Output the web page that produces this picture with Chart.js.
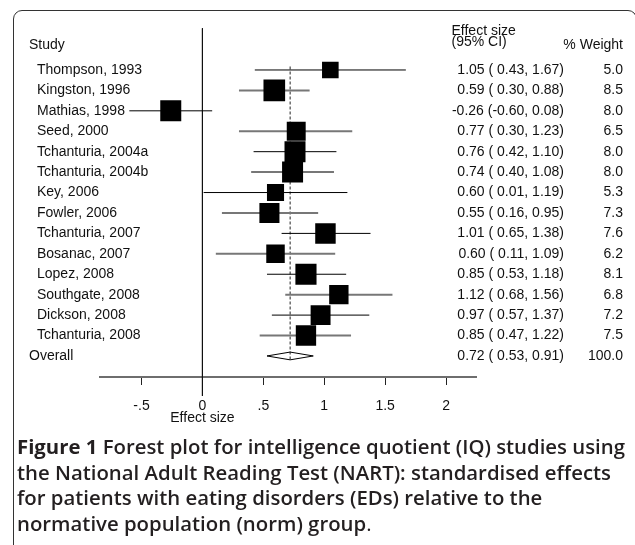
<!DOCTYPE html>
<html><head><meta charset="utf-8">
<script src="https://cdn.jsdelivr.net/npm/chart.js@4.4.1/dist/chart.umd.min.js"></script>
<style>
html,body{margin:0;padding:0;background:#fff;}
#wrap{position:relative;width:635px;height:545px;overflow:hidden;background:#fff;}
#frame{position:absolute;left:13px;top:10px;width:624px;height:560px;border:1px solid #333;border-radius:9px;box-sizing:border-box;}
#c{position:absolute;left:0;top:0;}
#cap{position:absolute;left:17px;top:434px;font-family:'Open Sans',sans-serif;font-weight:600;font-size:20px;line-height:25.7px;color:#231f20;white-space:nowrap;}
#cap span.l{display:block;height:25.7px;}
#cap b{font-weight:700;}
#cap .dot{font-weight:400;}
</style></head><body>
<div id="wrap">
<div id="frame"></div>
<canvas id="c" width="635" height="545"></canvas>
<div id="cap"><span class="l"><span id="l1"><b>Figure 1</b> Forest plot for intelligence quotient (IQ) studies using</span></span><span class="l">the National Adult Reading Test (NART): standardised effects</span><span class="l">for patients with eating disorders (EDs) relative to the</span><span class="l">normative population (norm) group<span class="dot">.</span></span></div>
</div>
<script>
// ---- data ----
const studies = ['Thompson, 1993','Kingston, 1996','Mathias, 1998','Seed, 2000','Tchanturia, 2004a','Tchanturia, 2004b','Key, 2006','Fowler, 2006','Tchanturia, 2007','Bosanac, 2007','Lopez, 2008','Southgate, 2008','Dickson, 2008','Tchanturia, 2008'];
const effect = [1.05,0.59,-0.26,0.77,0.76,0.74,0.60,0.55,1.01,0.60,0.85,1.12,0.97,0.85];
const ciLow  = [0.43,0.30,-0.60,0.30,0.42,0.40,0.01,0.16,0.65,0.11,0.53,0.68,0.57,0.47];
const ciHigh = [1.67,0.88,0.08,1.23,1.10,1.08,1.19,0.95,1.38,1.09,1.18,1.56,1.37,1.22];
const weight = [5.0,8.5,8.0,6.5,8.0,8.0,5.3,7.3,7.6,6.2,8.1,6.8,7.2,7.5];
const overallLabel = 'Overall';
const overallEffect = 0.72, overallLow = 0.53, overallHigh = 0.91, overallWeight = 100.0;
const xTicks = [-0.5, 0, 0.5, 1, 1.5, 2];
const xTickLabels = ['-.5', '0', '.5', '1', '1.5', '2'];
const xTitle = 'Effect size';
const headStudy = 'Study', headES1 = 'Effect size', headES2 = '(95% CI)', headW = '% Weight';

// ---- caption fit ----
(function(){
  const cap = document.getElementById('cap'), l1 = document.getElementById('l1');
  const w = l1.getBoundingClientRect().width;
  if (w > 0) cap.style.fontSize = (20 * 608 / w).toFixed(2) + 'px';
})();

// ---- layout constants ----
const overallRow = studies.length;
const Y_MIN = -2.04, Y_MAX = 15.03;
const AREA = {left: 99.5, right: 476.5, top: 28.3, bottom: 377};
const FONT = '14px "Liberation Sans", Arial, sans-serif';

const fmt = v => (v < 0 ? '' : ' ') + v.toFixed(2);
const esText = (e, l, h) => e.toFixed(2) + ' (' + fmt(l) + ', ' + h.toFixed(2) + ')';

const datasets = [];
// zero reference line
datasets.push({type:'line', data:[{x:0,y:Y_MIN},{x:0,y:15.96}], borderColor:'#111', borderWidth:1, pointRadius:0, clip:false, order:5});
// dashed overall line
datasets.push({type:'line', data:[{x:overallEffect,y:-0.17},{x:overallEffect,y:overallRow+0.2}], borderColor:'#222', borderWidth:1, borderDash:[3,2], pointRadius:0, order:4});
// CI lines
studies.forEach((s,i)=>{
  const odd = i % 2 === 1;
  datasets.push({type:'line', data:[{x:ciLow[i],y:i},{x:ciHigh[i],y:i}], borderColor: odd ? '#777' : '#000', borderWidth: odd ? 2 : 1, pointRadius:0, order:3});
});
// squares
datasets.push({type:'scatter', data: effect.map((e,i)=>({x:e,y:i})), pointStyle:'rect',
  pointRadius: effect.map((e,i)=> 5.25*Math.sqrt(weight[i])), pointHoverRadius: effect.map((e,i)=> 5.25*Math.sqrt(weight[i])),
  backgroundColor:'#000', borderColor:'#000', borderWidth:0, order:1});
// diamond
const dh = 0.19;
datasets.push({type:'line', data:[{x:overallLow,y:overallRow},{x:overallEffect,y:overallRow-dh},{x:overallHigh,y:overallRow},{x:overallEffect,y:overallRow+dh},{x:overallLow,y:overallRow}],
  borderColor:'#000', borderWidth:1, pointRadius:0, tension:0, fill:false, order:2});

const textPlugin = {
  id:'forestText',
  afterDraw(chart){
    const ctx = chart.ctx, ys = chart.scales.y, xs = chart.scales.x;
    ctx.save();
    ctx.font = FONT; ctx.fillStyle = '#111'; ctx.textBaseline = 'middle';
    const y0 = ys.getPixelForValue(0);
    ctx.textAlign = 'left';
    ctx.fillText(headStudy, 29, y0 - 25);
    ctx.fillText(headES1, 451.5, y0 - 38.5);
    ctx.fillText(headES2, 451.5, y0 - 28);
    ctx.textAlign = 'right';
    ctx.fillText(headW, 623, y0 - 25);
    studies.forEach((s,i)=>{
      const y = ys.getPixelForValue(i);
      ctx.textAlign = 'left'; ctx.fillText(s, 37, y);
      ctx.textAlign = 'right';
      ctx.fillText(esText(effect[i], ciLow[i], ciHigh[i]), 564, y);
      ctx.fillText(weight[i].toFixed(1), 623, y);
    });
    const yo = ys.getPixelForValue(overallRow);
    ctx.textAlign = 'left'; ctx.fillText(overallLabel, 29, yo);
    ctx.textAlign = 'right';
    ctx.fillText(esText(overallEffect, overallLow, overallHigh), 564, yo);
    ctx.fillText(overallWeight.toFixed(1), 623, yo);
    ctx.textAlign = 'center';
    ctx.fillText(xTitle, xs.getPixelForValue(0), chart.chartArea.bottom + 41);
    ctx.restore();
  }
};

const chart = new Chart(document.getElementById('c'), {
  data: {datasets},
  options: {
    responsive:false, animation:false, devicePixelRatio:1,
    layout:{padding:{left:99.5, right:158.5, top:28.3, bottom:130}},
    plugins:{legend:{display:false}, tooltip:{enabled:false}},
    scales:{
      x:{type:'linear', min:-0.845, max:2.25,
        afterBuildTicks: sc => { sc.ticks = xTicks.map(v=>({value:v})); },
        ticks:{autoSkip:false, maxRotation:0, padding:13, color:'#111', font:{family:'"Liberation Sans", Arial, sans-serif', size:14},
          callback:(v)=>{ const k = xTicks.indexOf(v); return k>=0 ? xTickLabels[k] : ''; }},
        grid:{drawOnChartArea:false, drawTicks:true, tickLength:8, color:'#222', lineWidth:1},
        border:{display:true, color:'#6e6e6e', width:2}
      },
      y:{type:'linear', min:Y_MIN, max:Y_MAX, reverse:true, display:false}
    }
  },
  plugins:[textPlugin]
});
function fit(){
  const a = chart.chartArea, p = chart.options.layout.padding;
  p.left += AREA.left - a.left; p.right += a.right - AREA.right;
  p.top += AREA.top - a.top; p.bottom += a.bottom - AREA.bottom;
  chart.update('none');
}
fit(); fit();
</script>
</body></html>
